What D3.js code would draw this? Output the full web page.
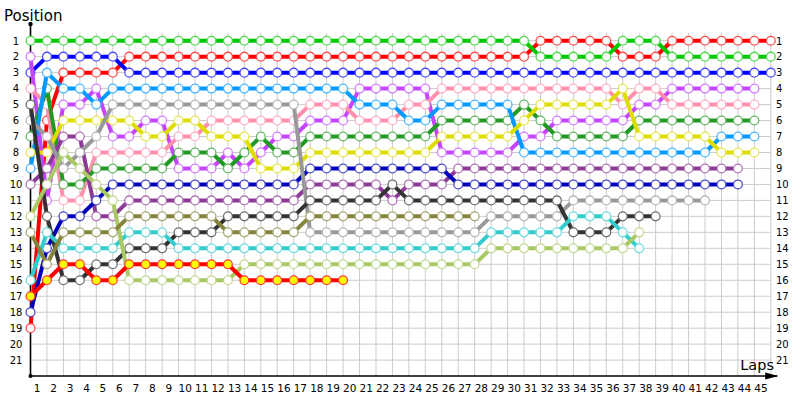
<!DOCTYPE html>
<html><head><meta charset="utf-8">
<script src="https://cdn.jsdelivr.net/npm/d3@7"></script>
<style>body{margin:0;background:#fff}svg{display:block}</style>
</head><body><svg id="c" width="800" height="400"></svg>
<script>
// ---- data (positions per lap, starting with lap 0 = grid) ----
const lapLabels = [1,2,3,4,5,6,7,8,9,10,11,12,13,14,15,16,17,18,19,20,21,22,23,24,25,26,27,28,29,30,31,32,33,34,35,36,37,38,39,40,41,42,43,44,45];
const posLabels = [1,2,3,4,5,6,7,8,9,10,11,12,13,14,15,16,17,18,19,20,21];

const green = [1,1,1,1,1,1,1,1,1,1, 1,1,1,1,1,1,1,1,1,1, 1,1,1,1,1,1,1,1,1,1, 1, 2,2,2,2,2, 1,1,1, 2,2,2,2,2,2,2];
const red = [19,6,3,3,3,3, 2,2,2,2,2,2,2,2,2,2, 2,2,2,2,2,2,2,2,2,2, 2,2,2,2,2, 1,1,1,1,1, 2,2,2, 1,1,1,1,1,1,1];
const blue = [3,2,2,2,2,2, 3,3,3,3,3,3,3,3,3,3, 3,3,3,3,3,3,3,3,3,3, 3,3,3,3,3,3,3,3,3,3, 3,3,3,3,3,3,3,3,3,3];
const lightblue = [9,3,4,4,5,4, 4,4,4,4,4,4,4,4,4,4,4,4,4,4, 5,5,5, 6,6, 5,5,5,5,5, 8,8,8,8,8,8,8,8,8,8,8,8, 7,7,7];
const magenta = [2,11,5,5,4,7,7,6,6, 9,9,9, 8, 9, 8, 7,7, 6,6,6, 4,4,4,4,4, 8,8,8,8,8, 7,7, 6,6,6,6,6, 5,5, 4,4,4,4,4,4];
const pink = [4,5,11,11,8,8,8,8,8, 7,7, 6,6,6,6,6,6, 5,5,5, 6,6,6, 5,5, 4,4,4,4,4,4,4,4,4,4,4, 5, 4,4, 5,5,5,5,5,5];
const gray = [6,7,9,8,7, 5,5,5,5,5,5,5,5,5,5,5,5, 13,13,13,13,13,13,13,13,13,13,13, 12,12,12,12,12, 11,11,11,11,11,11,11,11,11];
const dkgreen = [7,4,10,10,9,9,9,9,9, 8,8,8, 9, 8, 7, 8,8, 7,7,7,7,7,7,7,7, 6,6,6,6,6, 5, 6, 7,7,7,7,7, 6,6,6,6,6,6,6,6];
const yellow = [8,8,6,6,6,6,6,7,7, 6,6, 7,7,7, 9,9,9, 8,8,8,8,8,8,8,8, 7,7,7,7,7, 6, 5,5,5,5,5, 4, 7,7,7,7,7, 8,8,8];
const plum = [10,9,7,7,12,12, 11,11,11,11,11,11,11,11,11,11,11, 10,10,10,10,10, 11, 10,10,10, 9,9,9,9,9,9,9,9,9,9,9,9,9,9,9,9,9,9];
const navy = [18,14,12,12,11, 10,10,10,10,10,10,10,10,10,10,10,10, 9,9,9,9,9,9,9,9,9, 10,10,10,10,10,10,10,10,10,10,10,10,10,10,10,10,10,10];
const black = [5,12,16,16,15,15,14,14,14, 13,13,13, 12,12,12,12,12, 11,11,11,11,11, 10, 11,11,11,11,11,11,11,11,11,11, 13,13,13, 12,12,12];
const olive = [13,15,13,13,13,13, 12,12,12,12,12,12, 13,13,13,13,13, 12,12,12,12,12,12,12,12,12,12,12];
const cyan = [16,13,14,14,14,14,13,13,13, 14,14,14,14,14,14,14,14,14,14,14,14,14,14,14,14,14,14,14, 13,13,13,13,13, 12,12,12, 13, 14];
const yellowgreen = [12,10,8,9,10,11, 16,16,16,16,16,16,16, 15,15,15,15,15,15,15,15,15,15,15,15,15,15,15, 14,14,14,14,14,14,14,14,14, 13];
const redyellow = [17,16,15,15,16,16, 15,15,15,15,15,15,15, 16,16,16,16,16,16,16];

// drawn in this order (later on top)
const series = [
  {v: red,         c: "#ff0000"},
  {v: green,       c: "#00c800"},
  {v: blue,        c: "#0000ff"},
  {v: magenta,     c: "#c444ff"},
  {v: pink,        c: "#ff8fab"},
  {v: dkgreen,     c: "#229922"},
  {v: lightblue,   c: "#0099ff"},
  {v: yellow,      c: "#dddd00"},
  {v: plum,        c: "#8c3a96"},
  {v: navy,        c: "#0000bb"},
  {v: gray,        c: "#999999"},
  {v: black,       c: "#333333"},
  {v: cyan,        c: "#33cccc"},
  {v: yellowgreen, c: "#a9c965"},
  {v: olive,       c: "#84843c"},
  {v: redyellow,   c: "#ff0000", f: "#ffff00", s: "#ff3b3b"}
];

// ---- drawing ----
const svg = d3.select("#c");
const x = d3.scaleLinear().domain([0,45]).range([30.5, 770.8]);
const y = d3.scaleLinear().domain([1,21]).range([40.7, 360.1]);
const font = "DejaVu Sans, Verdana, sans-serif";

// grid
const g = svg.append("g");
g.selectAll("line.v").data([0].concat(lapLabels)).enter().append("line")
  .attr("x1", d => x(d)).attr("x2", d => x(d))
  .attr("y1", y(0.5)).attr("y2", y(22))
  .attr("stroke", "#cccccc").attr("stroke-width", 1);
g.selectAll("line.h").data(posLabels).enter().append("line")
  .attr("x1", x(0)).attr("x2", x(45))
  .attr("y1", d => y(d)).attr("y2", d => y(d))
  .attr("stroke", "#cccccc").attr("stroke-width", 1);

// axes
svg.append("line").attr("x1", x(0)).attr("x2", x(0)).attr("y1", y(22)).attr("y2", y(-0.05))
  .attr("stroke", "#000").attr("stroke-width", 1.6);
svg.append("line").attr("x1", x(0)).attr("x2", x(45.4)).attr("y1", y(22)).attr("y2", y(22))
  .attr("stroke", "#000").attr("stroke-width", 1.6);
svg.append("circle").attr("cx", x(0)).attr("cy", y(-0.05)).attr("r", 2.2).attr("fill", "#000");
svg.append("circle").attr("cx", x(0)).attr("cy", y(22)).attr("r", 2).attr("fill", "#000");
const ax = x(45.45), ay = y(22);
svg.append("path").attr("d", `M${ax-13},${ay-3.5}L${ax},${ay}L${ax-13},${ay+3.5}Z`).attr("fill", "#000");

// labels
svg.selectAll("text.yl").data(posLabels).enter().append("text")
  .attr("x", 16).attr("y", d => y(d) + 3.8).attr("text-anchor", "middle")
  .attr("font-family", font).attr("font-size", 10).attr("fill", "#000").text(d => d);
svg.selectAll("text.yr").data(posLabels).enter().append("text")
  .attr("x", 776).attr("y", d => y(d) + 3.8).attr("text-anchor", "start")
  .attr("font-family", font).attr("font-size", 10).attr("fill", "#000").text(d => d);
svg.selectAll("text.xl").data(lapLabels).enter().append("text")
  .attr("x", d => x(d) - 9.8).attr("y", 391.5).attr("text-anchor", "middle")
  .attr("font-family", font).attr("font-size", 10.5).attr("fill", "#000").text(d => d);
svg.append("text").attr("x", 4).attr("y", 21).attr("font-family", font).attr("font-size", 15).text("Position");
svg.append("text").attr("x", 774).attr("y", 370).attr("text-anchor", "end").attr("font-family", font).attr("font-size", 14.5).text("Laps");

// series: line then its markers
const line = d3.line().x((d, i) => x(i)).y(d => y(d));
series.forEach(s => {
  const gs = svg.append("g");
  gs.append("path").datum(s.v).attr("d", line)
    .attr("fill", "none").attr("stroke", s.c).attr("stroke-width", 4)
    .attr("stroke-linejoin", "round");
  const ms = s.s || d3.interpolateRgb(s.c, "#ffffff")(0.3);
  gs.selectAll("circle").data(s.v).enter().append("circle")
    .attr("cx", (d, i) => x(i)).attr("cy", d => y(d)).attr("r", 4.4)
    .attr("fill", s.f || "#ffffff").attr("stroke", ms).attr("stroke-width", 1.3);
});
</script></body></html>
